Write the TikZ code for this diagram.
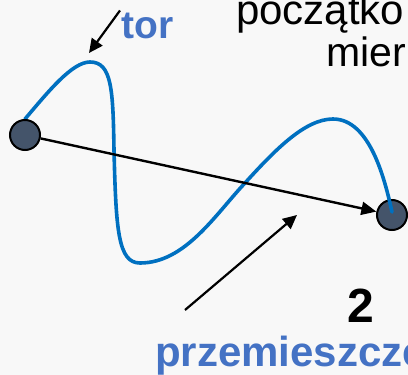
\documentclass[tikz,border=0pt]{standalone}
\usepackage{fontspec}
\setmainfont{Liberation Sans}
\usetikzlibrary{arrows.meta,positioning}
\definecolor{slideBg}{RGB}{248,248,248}
\definecolor{pathBlue}{RGB}{0,112,192}
\definecolor{labelBlue}{RGB}{68,114,196}
\definecolor{pointFill}{RGB}{68,84,106}

\begin{document}
\begin{tikzpicture}[x=1pt,y=-1pt,
    endpt/.style={circle, draw=black, line width=2pt, fill=pointFill, minimum size=30pt, inner sep=0pt},
    vecline/.style={line width=2.4pt, -{Triangle[length=15pt,width=13pt]}},
    pointer/.style={line width=2.2pt, -{Triangle[length=14pt,width=13pt]}},
    bigtext/.style={anchor=base west, inner sep=0pt}]
    % slide background
    \fill[slideBg] (0,0) rectangle (408,375);
    \useasboundingbox (0,0) rectangle (408,375);
    \clip (0,0) rectangle (408,375);

    % end point
    \node[endpt] (stop) at (392,215) {};

    % path
    \draw[pathBlue, line width=3.6pt, line cap=round]
        (25,119) .. controls (48,92) and (72,62) .. (90,62)
        .. controls (112,62) and (113,90) .. (114,150)
        .. controls (116,230) and (118,263) .. (140,263)
        .. controls (185,263) and (215,215) .. (245,183)
        .. controls (275,150) and (305,119) .. (333,119)
        .. controls (370,119) and (385,180) .. (392,212);

    % start point
    \node[endpt] (start) at (25,135) {};

    % displacement vector
    \draw[vecline] (start) -- (stop);

    % labels
    \node[bigtext, text=labelBlue, font=\bfseries\fontsize{39}{44}\selectfont] (tor) at (121,38) {tor};
    \node[bigtext, font=\fontsize{42}{48}\selectfont] (top1) at (236,24) {początko};
    \node[bigtext, font=\fontsize{41}{46}\selectfont] (top2) at (326,66) {mier};
    \node[bigtext, font=\bfseries\fontsize{48}{54}\selectfont] (two) at (347,322) {2};
    \node[bigtext, text=labelBlue, font=\bfseries\fontsize{42}{48}\selectfont] (disp) at (155,366) {przemieszcze};

    % pointers
    \coordinate (torTip) at (89,53);
    \coordinate (dispFrom) at (185,310);
    \coordinate (dispTip) at (297,215);
    \draw[pointer] (tor.west) ++(-1,-15) -- (torTip);
    \draw[pointer] (dispFrom) -- (dispTip);
\end{tikzpicture}
\end{document}
